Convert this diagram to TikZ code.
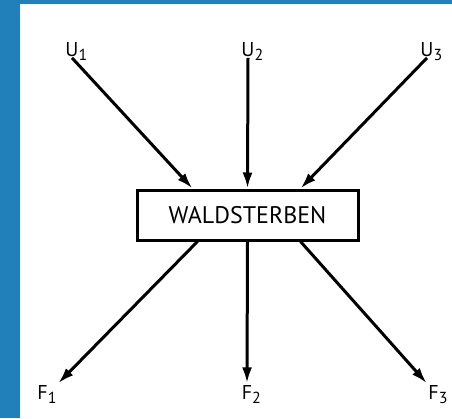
\documentclass[tikz,border=0pt]{standalone}
\usepackage{fontspec}
\setmainfont{PT Sans}
\usetikzlibrary{arrows.meta}

\definecolor{framebl}{RGB}{33,128,186}
\newcommand\lsub[1]{\raisebox{-4.5pt}{\fontsize{16}{16}\selectfont #1}}

\begin{document}
\begin{tikzpicture}[x=1pt, y=-1pt,
    lbl/.style={font=\fontsize{20}{20}\selectfont, inner sep=1.5pt, anchor=base},
    box/.style={draw, line width=3pt, minimum width=221pt, minimum height=50pt,
                font=\fontsize{24}{24}\selectfont},
    arr/.style={-{Latex[length=16pt,width=10pt]}, line width=3pt},
]
  \useasboundingbox (0,0) rectangle (452,418);
  \fill[framebl] (0,0) rectangle (20,418);
  \fill[framebl] (0,0) rectangle (452,4);

  \node [box] (wald) at (247.5,215) {WALDSTERBEN};

  \node [lbl] (u1) at (72,56)  {U\rlap{\smash{\lsub{1}}}};
  \node [lbl] (u2) at (248,56) {U\rlap{\smash{\lsub{2}}}};
  \node [lbl] (u3) at (427,56) {U\rlap{\smash{\lsub{3}}}};

  \node [lbl] (f1) at (47,399)  {F\lsub{1}};
  \node [lbl] (f2) at (247,399) {F\rlap{\smash{\lsub{2}}}};
  \node [lbl] (f3) at (438,399) {F\lsub{3}};

  \draw [arr] (u1.south) -- ([xshift=-55pt]wald.north);
  \draw [arr] (u2.south) -- (wald.north);
  \draw [arr] (u3.south) -- ([xshift=53pt]wald.north);

  \draw [arr] ([xshift=-50pt]wald.south) -- (f1.north east);
  \draw [arr] (wald.south) -- (f2.north);
  \draw [arr] ([xshift=53pt]wald.south) -- (f3.north west);
\end{tikzpicture}
\end{document}
